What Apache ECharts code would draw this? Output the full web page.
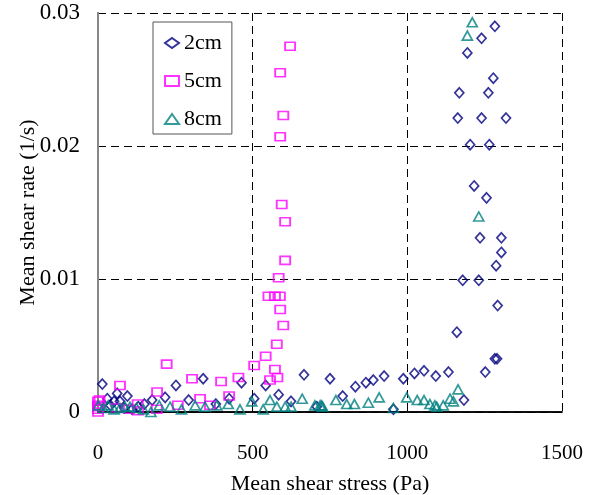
<!DOCTYPE html>
<html>
<head>
<meta charset="utf-8">
<script src="https://cdn.jsdelivr.net/npm/echarts@6/dist/echarts.min.js"></script>
<style>
  html, body { margin: 0; padding: 0; background: #fff; }
  #chart { width: 591px; height: 495px; }
</style>
</head>
<body>
<div id="chart"></div>
<script>
// Mean shear stress (Pa) vs mean shear rate (1/s) at three depths

const seriesNames = ['2cm', '5cm', '8cm'];

// 2cm: [stress Pa, rate 1/s]
const data2cm = [
  [1283, 0.0290], [1240, 0.0281], [1194, 0.0270], [1278, 0.0251], [1168, 0.0240],
  [1262, 0.0240], [1163, 0.0221], [1240, 0.0221], [1319, 0.0221], [1203, 0.0201],
  [1265, 0.0201], [1216, 0.0170], [1256, 0.0161], [1235, 0.0131], [1304, 0.0131],
  [1304, 0.0120], [1287, 0.0110], [1179, 0.0099], [1231, 0.0099], [1292, 0.0080],
  [1160, 0.0060], [1283, 0.0040], [1290, 0.0040], [1252, 0.0030], [1133, 0.0030],
  [1092, 0.0027], [1054, 0.0031], [1023, 0.0029], [987, 0.0025], [925, 0.0027],
  [890, 0.0024], [866, 0.0022], [832, 0.0019], [791, 0.0012], [750, 0.0025],
  [666, 0.0028], [624, 0.0008], [584, 0.0013], [542, 0.0020], [1183, 0.0009],
  [955, 0.0002], [707, 0.0004], [505, 0.0010], [464, 0.0022], [424, 0.0010],
  [381, 0.0006], [340, 0.0025], [293, 0.0009], [252, 0.0020], [217, 0.0011],
  [175, 0.0009], [95, 0.0012], [62, 0.0014], [30, 0.0010], [14, 0.0021],
  [52, 0.0008], [71, 0.0008], [40, 0.0005], [85, 0.0003], [110, 0.0002],
  [130, 0.0004], [150, 0.0006]
];

// 5cm
const data5cm = [
  [621, 0.0275], [589, 0.0255], [599, 0.0223], [589, 0.0207], [594, 0.0156],
  [605, 0.0143], [605, 0.0114], [584, 0.0101], [551, 0.0087], [572, 0.0087],
  [588, 0.0087], [589, 0.0077], [599, 0.0065], [578, 0.0051], [542, 0.0042],
  [572, 0.0032], [580, 0.0026], [556, 0.0024], [505, 0.0035], [454, 0.0026],
  [424, 0.0012], [398, 0.0023], [330, 0.0010], [304, 0.0025], [258, 0.0005],
  [222, 0.0036], [191, 0.0015], [190, 0.0002], [128, 0.0006], [71, 0.0020],
  [362, 0.0005], [0, 0.0000], [0, 0.0002], [0, 0.0005], [0, 0.0008],
  [3, 0.0004], [5, 0.0009], [60, 0.0003], [100, 0.0002], [130, 0.0001]
];

// 8cm
const data8cm = [
  [1210, 0.0293], [1194, 0.0283], [1231, 0.0147], [1164, 0.0017], [1138, 0.0010],
  [1149, 0.0008], [1116, 0.0005], [1089, 0.0005], [1095, 0.0004], [1073, 0.0006],
  [1054, 0.0009], [1032, 0.0009], [998, 0.0011], [955, 0.0003], [909, 0.0011],
  [874, 0.0007], [829, 0.0006], [804, 0.0006], [769, 0.0009], [723, 0.0005],
  [701, 0.0005], [660, 0.0010], [624, 0.0004], [605, 0.0004], [578, 0.0004],
  [556, 0.0009], [534, 0.0002], [497, 0.0008], [459, 0.0002], [421, 0.0006],
  [384, 0.0005], [346, 0.0004], [314, 0.0005], [270, 0.0002], [233, 0.0004],
  [198, 0.0005], [171, 0.0000], [147, 0.0002], [125, 0.0003], [103, 0.0004],
  [87, 0.0004], [71, 0.0003], [52, 0.0002], [33, 0.0005], [17, 0.0003],
  [1, 0.0005], [718, 0.0005], [726, 0.0004]
];

const xTicks = [0, 500, 1000, 1500];
const yTickLabels = ['0', '0.01', '0.02', '0.03'];

const FONT = '"Liberation Serif", "Times New Roman", serif';
const dash = [8, 5];

const chart = echarts.init(document.getElementById('chart'), null, { renderer: 'canvas' });

function scatter(name, data, symbol, size, color) {
  return {
    name: name,
    type: 'scatter',
    data: data,
    symbol: symbol,
    symbolSize: size,
    itemStyle: { color: 'rgba(0,0,0,0)', borderColor: color, borderWidth: 1.7 }
  };
}

chart.setOption({
  animation: false,
  backgroundColor: '#fff',
  grid: { left: 98, right: 29, top: 13, bottom: 83, containLabel: false, outerBoundsMode: 'none' },
  legend: {
    orient: 'vertical',
    left: 153,
    top: 22,
    padding: [10, 10, 4, 11],
    itemGap: 16,
    itemWidth: 14,
    itemHeight: 10,
    borderColor: '#555',
    borderWidth: 1,
    textStyle: { fontFamily: FONT, fontSize: 22, color: '#000' },
    data: seriesNames
  },
  xAxis: [{
    type: 'value',
    min: xTicks[0],
    max: xTicks[xTicks.length - 1],
    interval: 500,
    name: 'Mean shear stress (Pa)',
    nameLocation: 'middle',
    nameGap: 61,
    nameTextStyle: { fontFamily: FONT, fontSize: 22, color: '#000' },
    axisLine: { show: true, lineStyle: { color: '#000', width: 1.5 } },
    axisTick: { show: false },
    axisLabel: {
      fontFamily: FONT, fontSize: 21, color: '#000', margin: 31,
      formatter: function (v) { return String(v); }
    },
    splitLine: { show: true, lineStyle: { color: '#000', type: dash, width: 1 } }
  }, {
    type: 'value',
    position: 'top',
    min: 0, max: 1500,
    axisLine: { show: true, lineStyle: { color: '#000', width: 1.5 } },
    axisTick: { show: false },
    axisLabel: { show: false },
    splitLine: { show: false }
  }],
  yAxis: [{
    type: 'value',
    min: 0,
    max: 0.03,
    interval: 0.01,
    name: 'Mean shear rate (1/s)',
    nameLocation: 'middle',
    nameGap: 59,
    nameMoveOverlap: false,
    nameTextStyle: { fontFamily: FONT, fontSize: 22, color: '#000' },
    axisLine: { show: true, lineStyle: { color: '#000', width: 1.5 } },
    axisTick: { show: false },
    axisLabel: {
      fontFamily: FONT, fontSize: 23, color: '#000', margin: 18,
      formatter: function (v) { return yTickLabels[Math.round(v / 0.01)]; }
    },
    splitLine: { show: true, lineStyle: { color: '#000', type: dash, width: 1 } }
  }, {
    type: 'value',
    position: 'right',
    min: 0, max: 0.03,
    axisLine: { show: true, lineStyle: { color: '#888', width: 2 } },
    axisTick: { show: false },
    axisLabel: { show: false },
    splitLine: { show: false }
  }],
  series: [
    scatter(seriesNames[0], data2cm, 'diamond', [9, 10], '#000080'),
    scatter(seriesNames[1], data5cm, 'rect', [10, 8], '#FF00FF'),
    scatter(seriesNames[2], data8cm, 'triangle', [10, 9], '#008080')
  ]
});
</script>
</body>
</html>
